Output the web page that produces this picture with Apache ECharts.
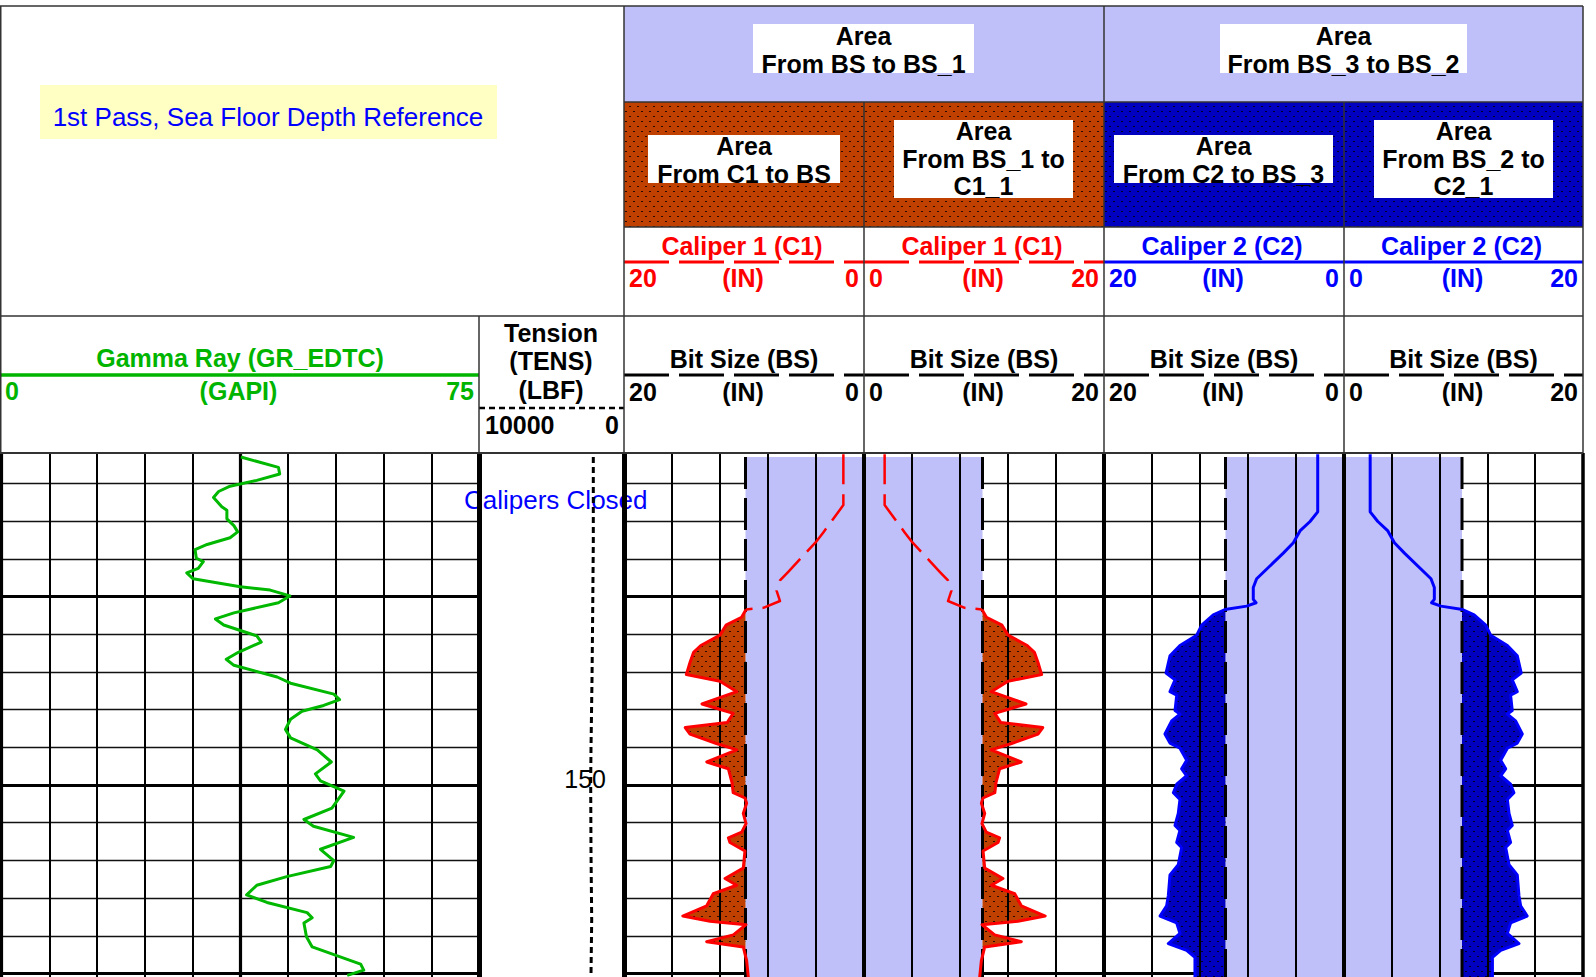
<!DOCTYPE html>
<html><head><meta charset="utf-8">
<script src="https://cdn.jsdelivr.net/npm/echarts/dist/echarts.min.js"></script>
<style>html,body{margin:0;padding:0;background:#fff}#c{width:1596px;height:977px}</style>
</head><body><div id="c"></div><script>
// ================= DATA =================
// Gamma Ray (GR_EDTC), GAPI
const grDepth = [132.6,133.15,133.5,133.84,134.15,134.43,134.75,135.24,135.42,135.88,136.24,136.57,136.88,137.24,137.51,137.97,138.15,138.51,138.75,139.06,139.48,139.66,139.97,140.33,140.87,141.19,141.51,142.09,142.42,142.96,143.33,143.65,144.27,144.6,145.18,145.47,145.78,146.09,146.51,147.05,147.5,148.14,148.78,149.41,149.78,150.32,151.23,151.83,152.19,152.78,153.41,154.01,154.32,154.86,155.32,155.83,156.23,156.77,157.04,157.32,158.05,158.59,159.5,159.82,160.1];
const grValues = [37.6,43.5,43.7,40.1,35.9,34.1,33.3,34.6,35.4,35.4,36.5,37.1,35.9,32.3,30.4,30.6,31.7,30.9,29.1,30.1,37.5,42.2,45.3,43.5,36.5,33.6,34.9,40.1,40.8,37.2,35.3,36.5,43.3,45.4,52.2,53.1,50.6,47.2,45.4,44.6,45.4,49.6,51.8,49.3,50.1,53.8,51.9,47.5,49.0,55.3,50.1,52.2,51.7,44.8,40.1,38.5,41.7,48.0,48.8,47.5,47.9,48.8,56.4,56.9,54.3];
// Tension (TENS), LBF
const tensDepth = [132.6,137.15,140.78,144.41,148.05,149.87,153.5,157.14,160.1];
const tensValues = [2117,2117,2159,2207,2276,2297,2276,2228,2276];
// Caliper 1 (C1), IN
const c1Depth = [132.45,135.15,136.6,137.06,138.69,139.15,139.7,140.24,140.6,140.69,141.1,141.52,142.05,142.6,142.96,143.5,144.14,144.5,145.05,145.7,146.2,146.69,146.95,147.3,147.8,148.14,148.78,149.14,149.87,150.41,150.69,150.96,151.51,152.05,152.5,152.8,153.05,153.5,154.41,154.96,155.32,155.77,156.41,156.95,157.23,157.41,157.95,158.31,158.59,159.32,160.2];
const c1Values = [1.72,1.72,3.39,3.94,6.31,7.0,7.28,7.0,8.39,9.83,10.2,11.5,12.0,13.6,14.2,14.5,14.8,12.0,10.6,13.5,10.9,11.4,14.9,14.5,12.3,10.6,13.1,11.3,11.0,10.9,9.92,9.78,10.06,9.83,10.19,11.3,11.17,9.92,10.06,11.58,10.61,12.56,13.11,15.1,12.83,9.83,10.89,13.11,10.06,9.78,9.64];
const c1ClosedTo = 140.69; // calipers closed above this depth (dashed curve)
// Caliper 2 (C2), IN
const c2Depth = [132.45,135.51,136.02,136.52,137.15,137.7,139.06,139.52,140.15,140.33,140.51,140.69,140.97,141.52,142.06,142.6,143.15,144.06,144.42,145.05,145.23,146.05,146.24,146.6,147.29,147.78,148.05,148.69,149.14,149.51,149.96,150.41,150.77,151.51,152.14,152.41,153.05,153.32,154.23,154.77,155.87,156.41,156.95,157.32,157.87,158.41,158.77,159.14,160.2];
const c2Values = [2.19,2.19,2.83,3.67,4.22,5.06,7.28,7.56,7.56,7.33,8.11,9.92,10.89,11.86,12.28,13.67,14.5,14.83,14.08,14.5,13.94,14.08,13.67,14.36,14.92,14.5,13.67,13.11,13.53,13.11,13.94,14.22,13.67,13.81,14.08,13.67,13.94,13.53,13.81,14.5,14.64,14.78,15.33,13.94,13.67,14.64,13.11,12.42,12.42];
// Bit Size (BS, BS_1, BS_3, BS_2), IN
const bsDepth = [132.6,160.2];
const bsValues = [9.875,9.875];
// scales (left, right) and depth axis
const grScale = [0,75];
const tensScale = [10000,0];
const calLeftScale = [20,0];
const calRightScale = [0,20];
const depthRange = [130,170];
const depthLabelEvery = 50;

// ================= LAYOUT / STYLE =================
const FONT = '"Liberation Sans", Arial, Helvetica, sans-serif';
const TOP = 6, R1 = 102, R2 = 227, R3 = 316, BODY = 453, RIGHT = 1583;
const Y_AT_MIN = 408, PX_PER_FT = 18.85;
const TR = {gr:[1.5,479], tens:[479,624], c1a:[624,864], c1b:[864,1104], c2a:[1104,1344], c2b:[1344,1583]};
const LAV = '#BFBFFA', RED = '#FF0000', BLUE = '#0000FF', GREEN = '#00B800';

function dotPattern(bg, dot) {
  const c = document.createElement('canvas'); c.width = 8; c.height = 10;
  const g = c.getContext('2d'); g.fillStyle = bg; g.fillRect(0,0,8,10);
  g.fillStyle = dot; g.fillRect(1,1,2,1); g.fillRect(5,6,2,1);
  return {image: c, repeat: 'repeat', imageWidth: 8, imageHeight: 10};
}
const BROWN_PAT = dotPattern('#C04000', '#2a0a00');
const BLUE_PAT = dotPattern('#0000C0', '#000020');

function bsAt(d) {
  if (d <= bsDepth[0]) return bsValues[0];
  for (let i = 1; i < bsDepth.length; i++) {
    if (d <= bsDepth[i]) { const t = (d - bsDepth[i-1])/(bsDepth[i]-bsDepth[i-1]); return bsValues[i-1] + t*(bsValues[i]-bsValues[i-1]); }
  }
  return bsValues[bsValues.length-1];
}

const keys = ['gr','tens','c1a','c1b','c2a','c2b'];
const grids = keys.map(k => ({left: TR[k][0], width: TR[k][1]-TR[k][0], top: Y_AT_MIN,
  height: (depthRange[1]-depthRange[0])*PX_PER_FT, containLabel: false, outerBoundsMode: 'none', show: false}));

function xAx(gi, scale, interval, width, show) {
  return {gridIndex: gi, type: 'value', min: Math.min(scale[0],scale[1]), max: Math.max(scale[0],scale[1]),
    inverse: scale[0] > scale[1], interval, z: 3,
    axisLine:{show:false}, axisTick:{show:false}, axisLabel:{show:false},
    splitLine:{show: show, showMinLine: true, showMaxLine: true, lineStyle:{color:'#000', width}}};
}
const xAxes = [
  xAx(0, grScale, 7.5, 2, true), xAx(0, grScale, 37.5, 3.2, true),
  xAx(1, tensScale, 10000, 5, true), xAx(1, tensScale, 10000, 5, false),
  xAx(2, calLeftScale, 4, 2, true), xAx(2, calLeftScale, 20, 4, true),
  xAx(3, calRightScale, 4, 2, true), xAx(3, calRightScale, 20, 4, true),
  xAx(4, calLeftScale, 4, 2, true), xAx(4, calLeftScale, 20, 4, true),
  xAx(5, calRightScale, 4, 2, true), xAx(5, calRightScale, 20, 3.5, true)
];
const yAxes = keys.map((k, gi) => {
  const isT = k === 'tens';
  return {gridIndex: gi, type: 'value', min: depthRange[0], max: depthRange[1], inverse: true, interval: 10, z: 0,
    position: isT ? 'right' : 'left',
    axisLine:{show:false}, axisTick:{show:false},
    axisLabel: isT ? {show:true, inside:true, margin: 18,
      formatter: v => (v % depthLabelEvery === 0 ? '{d|' + v + '}' : ''),
      rich: {d: {color:'#000', fontSize: 25, fontFamily: FONT, padding:[0,0,12,0]}}} : {show:false},
    splitLine:{show: !isT, lineStyle:{color:'#000', width:3.2}},
    minorTick:{show:false, splitNumber:5},
    minorSplitLine:{show: !isT, lineStyle:{color:'#111', width:1.4}}};
});

function lineSeries(gi, depths, values, color, width, type, z) {
  return {type:'line', xAxisIndex: gi*2, yAxisIndex: gi, data: depths.map((d,i) => [values[i], d]),
    showSymbol:false, symbol:'none', z, silent:true, animation:false, emphasis:{disabled:true},
    lineStyle:{color, width, type: type || 'solid', cap:'butt', join:'round'}};
}
function polySeries(gi, ptsFn, fill, z) {
  return {type:'custom', coordinateSystem:'cartesian2d', xAxisIndex: gi*2, yAxisIndex: gi, z, silent:true, animation:false,
    data:[[0, depthRange[0]]],
    renderItem: (params, api) => ({type:'polygon', shape:{points: ptsFn().map(p => api.coord(p))}, style:{fill, stroke:null}})};
}
const lavPts = () => [[bsValues[0], bsDepth[0]], [bsValues[bsValues.length-1], bsDepth[bsDepth.length-1]], [0, bsDepth[bsDepth.length-1]], [0, bsDepth[0]]];
function washoutPts(depths, vals) {
  return () => {
    const pts = depths.map((d,i) => [Math.max(vals[i], bsAt(d)), d]);
    for (let i = depths.length-1; i >= 0; i--) pts.push([bsAt(depths[i]), depths[i]]);
    return pts;
  };
}

const series = [];
series.push(lineSeries(0, grDepth, grValues, GREEN, 3, 'solid', 6));
series.push(lineSeries(1, tensDepth, tensValues, '#000', 3, [6,4], 6));
const c1OpenD = [], c1OpenV = [], c1ClosedD = [], c1ClosedV = [];
c1Depth.forEach((d,i) => { if (d <= c1ClosedTo) { c1ClosedD.push(d); c1ClosedV.push(c1Values[i]); } if (d >= c1ClosedTo) { c1OpenD.push(d); c1OpenV.push(c1Values[i]); } });
[[2,'c1'],[3,'c1'],[4,'c2'],[5,'c2']].forEach(([gi, cal]) => {
  series.push(polySeries(gi, lavPts, LAV, 1));
  if (cal === 'c1') {
    series.push(polySeries(gi, washoutPts(c1Depth, c1Values), BROWN_PAT, 2));
    series.push(lineSeries(gi, bsDepth, bsValues, '#000', 3, [32,9], 5));
    series.push(lineSeries(gi, c1ClosedD, c1ClosedV, RED, 2.5, [30,10], 6));
    series.push(lineSeries(gi, c1OpenD, c1OpenV, RED, 3, 'solid', 6));
  } else {
    series.push(polySeries(gi, washoutPts(c2Depth, c2Values), BLUE_PAT, 2));
    series.push(lineSeries(gi, bsDepth, bsValues, '#000', 3, [32,9], 5));
    series.push(lineSeries(gi, c2Depth, c2Values, BLUE, 3, 'solid', 6));
  }
});

// ================= HEADER (graphic) =================
const G = [];
function rect(x1,y1,x2,y2,fill,z){G.push({type:'rect',z:z||91,silent:true,shape:{x:x1,y:y1,width:x2-x1,height:y2-y1},style:{fill}});}
function ln(x1,y1,x2,y2,stroke,w,dash,z){G.push({type:'line',z:z||95,silent:true,shape:{x1,y1,x2,y2},style:{stroke,lineWidth:w,lineDash:dash||null}});}
function tx(t,x,y,color,size,weight,align,z){G.push({type:'text',z:z||96,silent:true,style:{text:t,x,y,fill:color,fontSize:size,fontWeight:weight,fontFamily:FONT,align:align||'center',verticalAlign:'middle'}});}

rect(0,0,1596,BODY,'#fff',90);
rect(40,85,497,139,'#FFFFC4');
tx('1st Pass, Sea Floor Depth Reference', 268, 117, BLUE, 26, 'normal');
rect(TR.c1a[0],TOP,RIGHT,R1,LAV);
rect(TR.c1a[0],R1,TR.c1b[1],R2,BROWN_PAT);
rect(TR.c2a[0],R1,RIGHT,R2,BLUE_PAT);
function box(x1,y1,x2,y2,lines,cy0){ rect(x1,y1,x2,y2,'#fff',92); const cx=(x1+x2)/2; lines.forEach((l,i)=>tx(l,cx,cy0+i*27.5,'#000',25,'bold')); }
box(753,24,974,73,['Area','From BS to BS_1'],36);
box(1220,24,1467,73,['Area','From BS_3 to BS_2'],36);
box(648,135,840,183,['Area','From C1 to BS'],146);
box(894,120,1073,198,['Area','From BS_1 to','C1_1'],131);
box(1114,135,1333,183,['Area','From C2 to BS_3'],146);
box(1374,120,1553,198,['Area','From BS_2 to','C2_1'],131);

const LC = '#333';
ln(0,TOP,RIGHT,TOP,LC,1.5);
ln(0.75,TOP,0.75,BODY,LC,1.5);
ln(0,R3,RIGHT,R3,LC,1.5);
ln(0,BODY,RIGHT,BODY,LC,2);
ln(TR.c1a[0],R1,RIGHT,R1,LC,1.5);
ln(TR.c1a[0],R2,RIGHT,R2,LC,1.5);
[TR.c1a[0], TR.c2a[0], RIGHT].forEach(x => ln(x,TOP,x,BODY,LC,1.5));
[TR.c1b[0], TR.c2b[0]].forEach(x => ln(x,R1,x,BODY,LC,1.5));
ln(TR.tens[0],R3,TR.tens[0],BODY,LC,1.5);

function scaleRow(tr, scale, unit, y, color) {
  tx(String(scale[0]), tr[0]+5, y, color, 25, 'bold', 'left');
  tx(unit, (tr[0]+tr[1])/2 - 1, y, color, 25, 'bold');
  tx(String(scale[1]), tr[1]-5, y, color, 25, 'bold', 'right');
}
// caliper rows
[['c1a','Caliper 1 (C1)',calLeftScale,RED,[45,10]],['c1b','Caliper 1 (C1)',calRightScale,RED,[45,10]],
 ['c2a','Caliper 2 (C2)',calLeftScale,BLUE,null],['c2b','Caliper 2 (C2)',calRightScale,BLUE,null]].forEach(([k,t,sc,col,dash]) => {
  const tr = TR[k];
  ln(tr[0],262,tr[1],262,col,3,dash,94);
  tx(t,(tr[0]+tr[1])/2 - 2,246,col,25,'bold');
  scaleRow(tr, sc, '(IN)', 278, col);
  // bit size rows
  ln(tr[0],375,tr[1],375,'#000',3,[45,10],94);
  tx('Bit Size (BS)',(tr[0]+tr[1])/2,359,'#000',25,'bold');
  scaleRow(tr, sc, '(IN)', 392, '#000');
});
// gamma ray
ln(0,375,TR.gr[1],375,'#00B400',3.5,null,94);
tx('Gamma Ray (GR_EDTC)',240,358,'#00B400',25,'bold');
scaleRow([0,479], grScale, '(GAPI)', 391, '#00B400');
// tension
tx('Tension',551,333,'#000',25,'bold');
tx('(TENS)',551,361,'#000',25,'bold');
tx('(LBF)',551,390,'#000',25,'bold');
ln(TR.tens[0],408,TR.tens[1],408,'#000',2.5,[6,4],94);
tx(String(tensScale[0]),485,425,'#000',25,'bold','left');
tx(String(tensScale[1]),619,425,'#000',25,'bold','right');
// annotation
tx('Calipers Closed',464,500,BLUE,26,'normal','left',2);

const chart = echarts.init(document.getElementById('c'), null, {renderer:'svg', width:1596, height:977});
chart.setOption({animation:false, backgroundColor:'#fff', grid: grids, xAxis: xAxes, yAxis: yAxes, series, graphic: {elements: G}});
</script></body></html>
